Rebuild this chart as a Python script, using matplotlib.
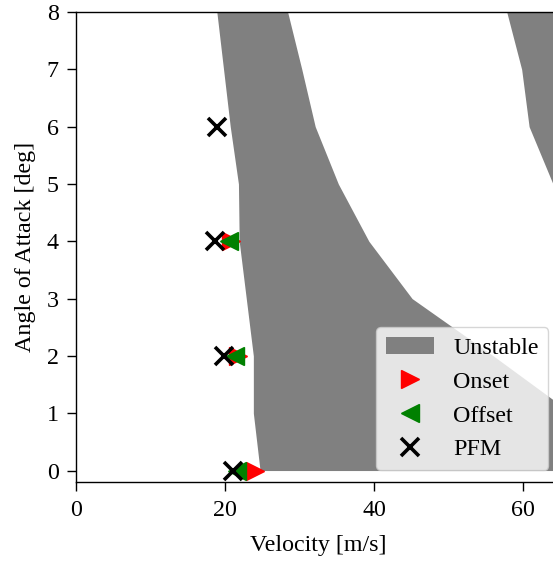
import numpy as np
import matplotlib
matplotlib.use("Agg")
import matplotlib.pyplot as plt
from matplotlib.patches import Patch
from matplotlib.lines import Line2D

plt.rcParams['font.family'] = ['Liberation Serif', 'DejaVu Serif']
plt.rcParams['font.size'] = 17.3
plt.rcParams['axes.linewidth'] = 1.0
plt.rcParams['xtick.major.size'] = 6.5
plt.rcParams['ytick.major.size'] = 6.5
plt.rcParams['xtick.major.width'] = 1.0
plt.rcParams['ytick.major.width'] = 1.0
plt.rcParams['xtick.major.pad'] = 6.5
plt.rcParams['ytick.major.pad'] = 6.0

# Unstable region, first band (left / right boundary velocity at each angle)
aoa_band1 = [0, 1, 2, 3, 4, 5, 6, 7, 8]
band1_left = [24.7, 23.8, 23.8, 22.85, 21.9, 21.8, 20.7, 19.8, 18.9]
band1_right = [70.0, 66.5, 56.0, 45.1, 39.3, 35.2, 32.1, 30.3, 28.4]

# Unstable region, second band (top right corner)
aoa_band2 = [4, 5, 6, 7, 8]
band2_left = [68.0, 64.0, 60.8, 59.8, 57.8]
band2_right = [75.0, 75.0, 75.0, 75.0, 75.0]

# flutter onset / offset and PFM predictions
onset_aoa = [0, 2, 4]
onset_vel = [24.0, 21.7, 20.8]
offset_aoa = [0, 2, 4]
offset_vel = [21.6, 21.3, 20.5]
pfm_aoa = [0, 2, 4, 6]
pfm_vel = [21.1, 19.9, 18.6, 18.9]

fig = plt.figure(figsize=(5.53, 5.61), dpi=100)
ax = fig.add_axes([0.1374, 0.1408, 0.876, 0.8378])

ax.fill_betweenx(aoa_band1, band1_left, band1_right, color='gray', lw=0)
ax.fill_betweenx(aoa_band2, band2_left, band2_right, color='gray', lw=0)

ax.plot(onset_vel, onset_aoa, '>', color='red', ms=13, ls='none', clip_on=False)
ax.plot(offset_vel, offset_aoa, '<', color='green', ms=13, ls='none', clip_on=False)
ax.plot(pfm_vel, pfm_aoa, 'x', color='black', ms=12.5, mew=2.6, ls='none', clip_on=False)

ax.set_xlim(0, 65)
ax.set_ylim(-0.2, 8)
ax.set_xticks([0, 20, 40, 60])
ax.set_yticks(range(0, 9))
ax.set_xlabel('Velocity [m/s]', labelpad=10)
ax.set_ylabel('Angle of Attack [deg]', labelpad=7.5)

handles = [
    Patch(facecolor='gray', label='Unstable'),
    Line2D([], [], marker='>', color='red', ls='none', ms=13, label='Onset'),
    Line2D([], [], marker='<', color='green', ls='none', ms=13, label='Offset'),
    Line2D([], [], marker='x', color='black', ls='none', ms=12.5, mew=2.6, label='PFM'),
]
leg = ax.legend(handles=handles, loc='lower right')

fig.savefig('out.png', dpi=100)
